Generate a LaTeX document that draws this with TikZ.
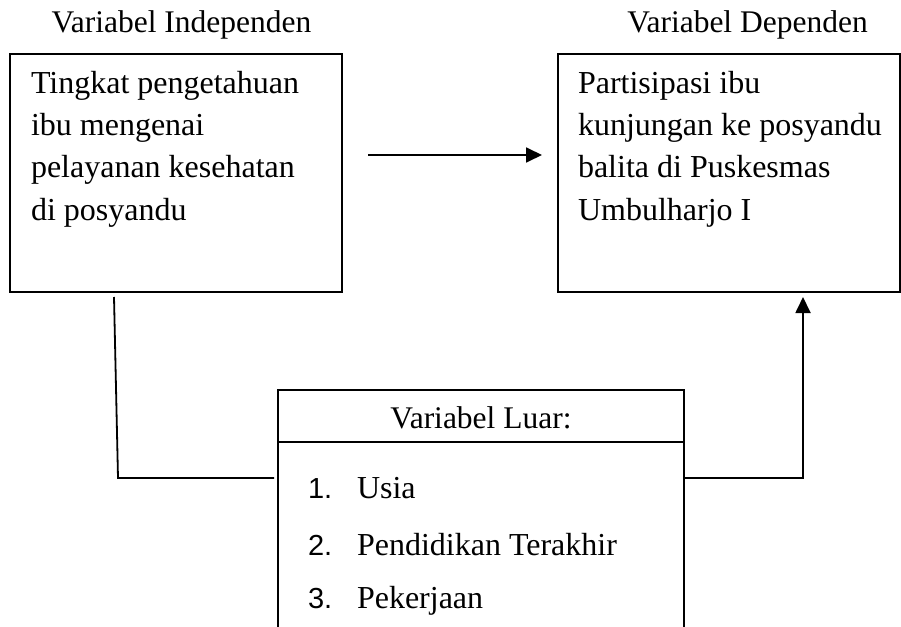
\documentclass[tikz,border=0pt]{standalone}
\usepackage{fontspec}
\setmainfont{Liberation Serif}
\newfontfamily\numfont{Liberation Sans}
\usetikzlibrary{arrows.meta}
\begin{document}
\begin{tikzpicture}[x=1pt,y=-1pt,
  every node/.style={inner sep=0pt, outer sep=0pt},
  txt/.style={anchor=base west, font=\fontsize{32}{40}\selectfont},
  ttl/.style={anchor=base, font=\fontsize{31.5}{40}\selectfont},
  num/.style={anchor=base west, font=\numfont\fontsize{29}{36}\selectfont},
  boxstyle/.style={draw, line width=1.8pt, anchor=north west},
  conn/.style={line width=1.8pt},
  arr/.style={line width=1.8pt, -{Triangle[length=16pt,width=15pt]}}
]
\useasboundingbox (0,0) rectangle (901,626);
% titles
\node[ttl] (t1) at (181.5,33) {Variabel Independen};
\node[ttl] (t2) at (747.5,33) {Variabel Dependen};
% boxes
\node[boxstyle, minimum width=332pt, minimum height=238pt] (lbox) at (10,54) {};
\node[boxstyle, minimum width=342pt, minimum height=238pt] (rbox) at (558,54) {};
% left text
\node[txt] (l1) at (31,93) {Tingkat pengetahuan};
\node[txt] (l2) at (31,135) {ibu mengenai};
\node[txt] (l3) at (31,177) {pelayanan kesehatan};
\node[txt] (l4) at (31,220) {di posyandu};
% right text
\node[txt] (r1) at (578,93) {Partisipasi ibu};
\node[txt] (r2) at (578,135) {kunjungan ke posyandu};
\node[txt] (r3) at (578,177) {balita di Puskesmas};
\node[txt] (r4) at (578,220) {Umbulharjo I};
% bottom box
\node[boxstyle, minimum width=406pt, minimum height=52pt] (bhead) at (278,390) {};
\node[boxstyle, minimum width=406pt, minimum height=200pt] (bbody) at (278,442) {};
\node[ttl] (bt) at (481,428) {Variabel Luar:};
\node[num] (n1) at (308,498) {1.};
\node[txt] (i1) at (357,498) {Usia};
\node[num] (n2) at (308,555) {2.};
\node[txt] (i2) at (357,555) {Pendidikan Terakhir};
\node[num] (n3) at (308,608) {3.};
\node[txt] (i3) at (357,608) {Pekerjaan};
% connectors
\coordinate (ca) at (368,155);
\coordinate (cb) at (542,155);
\draw[arr] (ca) -- (cb);
\coordinate (la) at (114,297);
\coordinate (lb) at (118,478);
\coordinate (lc) at (274,478);
\draw[conn] (la) -- (lb) -- (lc);
\coordinate (ra) at (684,478);
\coordinate (rb) at (803,478);
\coordinate (rc) at (803,297);
\draw[arr] (ra) -- (rb) -- (rc);
\end{tikzpicture}
\end{document}
